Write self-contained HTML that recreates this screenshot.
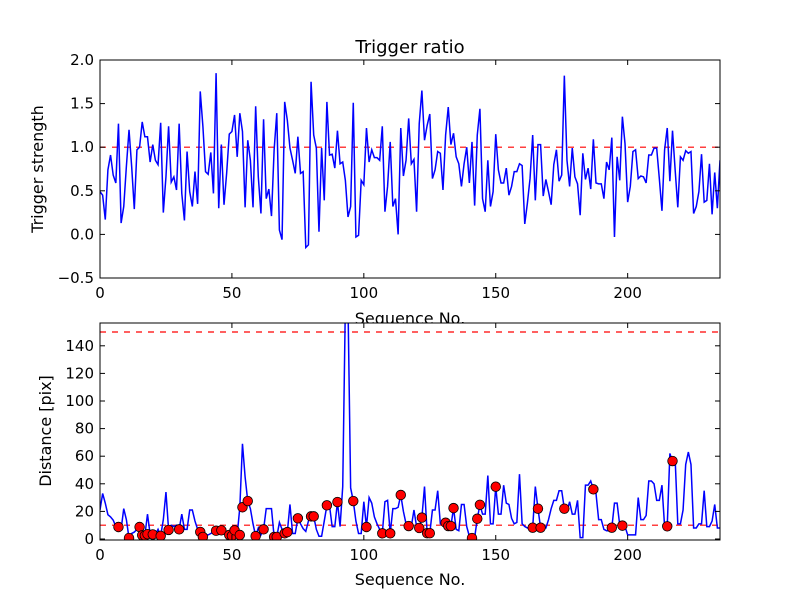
<!DOCTYPE html>
<html><head><meta charset="utf-8"><style>
body{margin:0;background:#fff}
svg text{font-family:"DejaVu Sans","Liberation Sans",sans-serif;fill:#000}
</style></head><body>
<svg id="c" width="800" height="600" xmlns="http://www.w3.org/2000/svg">
<rect width="800" height="600" fill="#fff"/>
<defs>
<clipPath id="clipTop"><rect x="100" y="60" width="620" height="218"/></clipPath>
<clipPath id="clipBot"><rect x="100" y="323" width="620" height="217"/></clipPath>
</defs>
<g id="top"></g>
<g id="bot"></g>
</svg>
<script>
const ratioValues=[0.49,0.45,0.17,0.74,0.91,0.68,0.59,1.27,0.13,0.32,0.78,1.2,0.78,0.29,0.97,1.0,1.29,1.12,1.12,0.83,1.03,0.85,0.8,1.28,0.25,0.66,1.24,0.6,0.66,0.51,1.27,0.47,0.16,0.95,0.49,0.32,0.72,0.35,1.64,1.24,0.72,0.69,0.94,0.47,1.85,0.3,1.03,0.34,0.7,1.15,1.18,1.37,0.89,1.39,1.18,0.31,1.08,0.85,0.31,1.47,0.66,0.24,1.32,0.41,0.52,0.21,0.97,1.39,0.05,-0.06,1.52,1.31,0.99,0.85,0.7,1.12,0.7,0.72,-0.15,-0.12,
1.75,1.14,0.99,0.03,0.99,0.39,1.52,0.91,0.92,0.76,1.19,0.81,0.83,0.62,0.2,0.32,1.51,-0.03,-0.01,0.62,0.57,1.22,0.83,0.97,0.88,0.88,0.85,1.24,0.26,0.55,1.06,0.32,0.41,0.0,1.22,0.67,0.85,1.33,0.81,0.86,0.26,1.27,1.65,1.08,1.25,1.38,0.64,0.74,0.95,0.93,0.51,1.14,1.46,1.03,1.16,0.89,0.81,0.55,0.81,1.0,0.59,1.06,0.33,1.14,1.44,0.41,0.26,0.85,0.32,0.49,1.15,0.74,0.59,0.59,0.76,0.45,0.55,0.72,
0.72,0.81,0.79,0.12,0.36,0.64,1.14,0.39,1.03,1.03,0.44,0.63,0.49,0.34,0.8,0.97,0.61,0.68,1.82,0.85,0.55,0.99,0.66,0.58,0.22,0.93,0.63,0.76,0.52,1.09,0.59,0.58,0.58,0.41,0.83,0.74,1.11,-0.03,0.89,0.62,1.35,1.04,0.37,0.55,0.95,0.97,0.64,0.67,0.66,0.59,0.91,0.91,0.99,0.99,0.64,0.27,0.97,1.22,0.61,1.19,0.74,0.31,0.89,0.85,0.96,0.93,0.95,0.24,0.32,0.49,0.92,0.37,0.39,0.81,0.23,0.71,0.3,0.85];
const distValues=[21,33,26,17.6,16,13.7,9,8.7,7,22,14,0.7,4,5,7,8.7,2.7,2.5,18,3.5,3.3,3,7,2.3,14,34,6.6,10,9,10,7,18,7,7,21,21,13,7,5.1,1.5,3,3,4,5,6,7,6.3,5,3,2.9,2.3,6.3,3,23,69,45,27.5,22,11,2.1,8,3,7,22,22,22,1.5,1.5,12,7,4.1,5,25,4,4,15,11,7.5,5.5,13,16.4,16.4,7,2,2,13,24.4,24,9,9,26.8,9,38,170,170,37,27.5,13,4,4,27,8.7,30,26,16,11,7,4.1,27,28,4.1,22,22,23,31.9,20,11,9.4,
9,21,9,8,15.5,38,4.2,4.2,21,21,35,11,10,11.8,9.4,9.4,22.4,7,6,25,25,9,2,0.7,1,14.7,24.8,18,18,46,11,11,37.9,18,18,39,26,25,15,11,12,47,11,9,8,8,8.2,38,22,8.2,8,8,14,22,28,28,35,35,22,20,27,18,18,28,1,1,39,39,42,36,33,14,14,7,6,6,8.2,26,26,10,9.7,9,3,3,3,3,30,14,14,17,42,42,40,28,28,39,9,9.2,62,56.5,58,11,11,21,54,63,54,8,8,11,11,35,9,9,13,25,8,8];
const matchIdx=[7,11,15,16,17,18,20,23,26,30,38,39,44,46,49,50,51,53,54,56,59,62,66,67,70,71,75,80,81,86,90,96,101,107,110,114,117,121,122,124,125,131,132,133,134,141,143,144,150,164,166,167,176,187,194,198,215,217];
const matchVal=[8.7,0.7,8.7,2.7,2.5,3.5,3.3,2.3,6.6,7,5.1,1.5,6,6.3,2.9,2.3,6.3,2.9,23,27.5,2.1,7,1.5,1.5,4.1,5,15,16.4,16.4,24.4,26.8,27.5,8.7,4.1,4.1,31.9,9.4,8,15.5,4.2,4.2,11.8,9.4,9.4,22.4,0.7,14.7,24.8,37.9,8.2,22,8.2,22,36,8.2,9.7,9.2,56.5];
const xTicks=[0,50,100,150,200];
const topYTicks=[-0.5,0.0,0.5,1.0,1.5,2.0];
const botYTicks=[0,20,40,60,80,100,120,140];
const X0=100,X1=720,XMAX=235;
const NS='http://www.w3.org/2000/svg';
function xs(v){return X0+(X1-X0)*v/XMAX;}
function mk(tag,attrs,parent){const e=document.createElementNS(NS,tag);for(const k in attrs)e.setAttribute(k,attrs[k]);parent.appendChild(e);return e;}
function axes(g,y0,y1,ys,yt,fmt){
  for(const t of xTicks){const x=xs(t);
    const a=mk('line',{x1:x,x2:x,y1:y1,y2:y1-5,stroke:'#000'},g);
    
    mk('line',{x1:x,x2:x,y1:y0,y2:y0+5,stroke:'#000'},g);
    const tx=mk('text',{x:x,y:y1+20,'text-anchor':'middle','font-size':'15'},g);tx.textContent=t;
    }
  for(const t of yt){const y=ys(t);
    mk('line',{x1:X0,x2:X0+5,y1:y,y2:y,stroke:'#000'},g);
    mk('line',{x1:X1,x2:X1-5,y1:y,y2:y,stroke:'#000'},g);
    const tx=mk('text',{x:X0-6,y:y+5,'text-anchor':'end','font-size':'15'},g);tx.textContent=fmt(t);
    }
  const r=mk('rect',{x:X0,y:y0,width:X1-X0,height:y1-y0,fill:'none',stroke:'#000','stroke-width':1},g);
  
}
// top
const gt=document.getElementById('top');
const ysT=v=>278-218*(v+0.5)/2.5;
const tl=mk('text',{x:410,y:53,'text-anchor':'middle','font-size':'18'},gt);tl.textContent='Trigger ratio';

const ref1=mk('line',{x1:X0,x2:X1,y1:ysT(1),y2:ysT(1),stroke:'#f00','stroke-width':1.2,'stroke-dasharray':'6,6'},gt);

const lt=mk('polyline',{points:ratioValues.map((v,i)=>xs(i)+','+ysT(v)).join(' '),fill:'none',stroke:'#00f','stroke-width':1.5,'clip-path':'url(#clipTop)'},gt);

axes(gt,60,278,ysT,topYTicks,t=>t.toFixed(1).replace('-','−'));
const xl1=mk('text',{x:410,y:324,'text-anchor':'middle','font-size':'16'},gt);xl1.textContent='Sequence No.';

const yl1=mk('text',{x:0,y:0,'text-anchor':'middle','font-size':'16',transform:'translate(43,169) rotate(-90)'},gt);yl1.textContent='Trigger strength';

// bottom
const gb=document.getElementById('bot');
const ysB=v=>539-1.38*v;
mk('rect',{x:X0,y:323,width:X1-X0,height:217,fill:'#fff'},gb);
for(const v of [10,150]){const l=mk('line',{x1:X0,x2:X1,y1:ysB(v),y2:ysB(v),stroke:'#f00','stroke-width':1.2,'stroke-dasharray':'6,6'},gb);
  }
const lb=mk('polyline',{points:distValues.map((v,i)=>xs(i)+','+ysB(v)).join(' '),fill:'none',stroke:'#00f','stroke-width':1.5,'clip-path':'url(#clipBot)'},gb);

matchIdx.forEach((ix,k)=>{const c=mk('circle',{cx:xs(ix),cy:ysB(matchVal[k]),r:4.8,fill:'#f00',stroke:'#000','stroke-width':0.8,'clip-path':'url(#clipBot)'},gb);
  });
axes(gb,323,540,ysB,botYTicks,t=>String(t));
const xl2=mk('text',{x:410,y:585,'text-anchor':'middle','font-size':'16'},gb);xl2.textContent='Sequence No.';

const yl2=mk('text',{x:0,y:0,'text-anchor':'middle','font-size':'16',transform:'translate(51,431) rotate(-90)'},gb);yl2.textContent='Distance [pix]';

</script>
</body></html>
